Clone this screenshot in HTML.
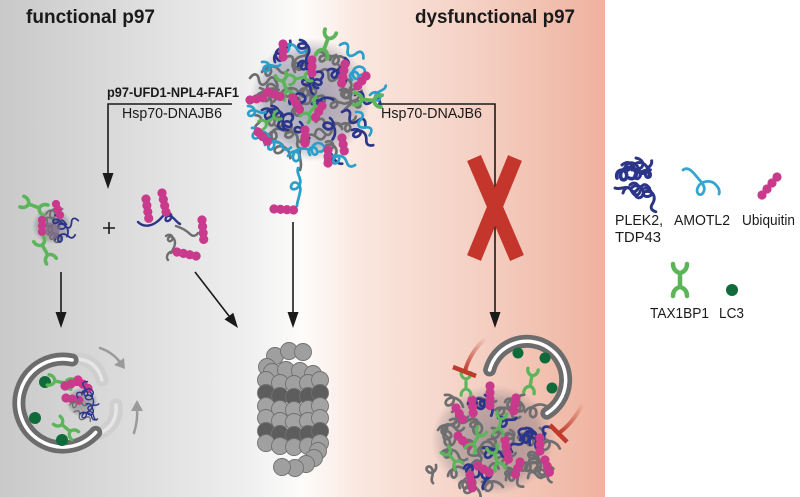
<!DOCTYPE html>
<html><head><meta charset="utf-8"><style>
html,body{margin:0;padding:0;background:#fff}
svg{display:block}
text{font-family:"Liberation Sans",Arial,sans-serif;fill:#1a1a1a}
</style></head><body>
<svg width="800" height="497" viewBox="0 0 800 497" xmlns="http://www.w3.org/2000/svg">
<defs>
<linearGradient id="bg" gradientUnits="userSpaceOnUse" x1="0" y1="0" x2="605" y2="0">
<stop offset="0" stop-color="#c9c9c9"/><stop offset="0.2" stop-color="#dbdbdb"/><stop offset="0.4" stop-color="#eeeeee"/><stop offset="0.5" stop-color="#fdfcfb"/><stop offset="0.6" stop-color="#fae6de"/><stop offset="0.8" stop-color="#f4cfc2"/><stop offset="1" stop-color="#efb29e"/>
</linearGradient>
<linearGradient id="f1" gradientUnits="userSpaceOnUse" x1="465" y1="372" x2="486" y2="338"><stop offset="0" stop-color="#c0392b"/><stop offset="1" stop-color="#c0392b" stop-opacity="0"/></linearGradient>
<linearGradient id="f2" gradientUnits="userSpaceOnUse" x1="559" y1="433" x2="583" y2="403"><stop offset="0" stop-color="#c0392b"/><stop offset="1" stop-color="#c0392b" stop-opacity="0"/></linearGradient>
<radialGradient id="blob1"><stop offset="0" stop-color="#5c5878" stop-opacity="0.55"/><stop offset="0.75" stop-color="#6a6680" stop-opacity="0.4"/><stop offset="1" stop-color="#6a6680" stop-opacity="0"/></radialGradient>
<radialGradient id="blob2"><stop offset="0" stop-color="#5e5a6e" stop-opacity="0.5"/><stop offset="0.75" stop-color="#6a6672" stop-opacity="0.35"/><stop offset="1" stop-color="#6a6672" stop-opacity="0"/></radialGradient>
<path id="q1" d="M0 0 c3 -6 10 -6 9 0 c-1 5 -7 5 -5 -1 c2 -6 9 -6 13 -1 c3 4 6 4 9 0"/>
<path id="q2" d="M0 0 c6 1 8 8 3 10 c-5 2 -6 -5 0 -5 c6 0 8 6 13 4"/>
<path id="q3" d="M0 0 c3 -6 7 -6 9 0 c2 6 6 6 9 0 c2 -6 6 -6 9 0"/>
<path id="q4" d="M0 0 c-2 -7 7 -9 8 -3 c1 6 -6 6 -5 0 c1 -6 9 -8 12 -3 c3 4 -1 8 -5 6"/>
<path id="q5" d="M0 0 c7 -4 13 1 9 7 c-3 4 -8 1 -5 -4 c4 -6 13 -4 17 2"/>
<g id="ub"><circle cx="0" cy="0" r="4.6"/><circle cx="6.5" cy="0" r="4.6"/><circle cx="13" cy="0" r="4.6"/><circle cx="19.5" cy="0" r="4.6"/></g>
<g id="ub3"><circle cx="0" cy="0" r="4.6"/><circle cx="6.5" cy="0" r="4.6"/><circle cx="13" cy="0" r="4.6"/></g>
<path id="tx" d="M-7 -16 c0 5 3 8 7 9 c4 -1 7 -4 7 -9 M0 -7 v14 M-7 16 c0 -5 3 -8 7 -9 c4 1 7 4 7 9" fill="none" stroke="#5cb55a" stroke-width="4.5" stroke-linecap="round"/>
</defs>

<rect x="0" y="0" width="605" height="497" fill="url(#bg)"/>
<rect x="605" y="0" width="195" height="497" fill="#fff"/>

<!-- titles -->
<text x="26" y="23" font-size="19" font-weight="bold" textLength="129" lengthAdjust="spacingAndGlyphs">functional p97</text>
<text x="415" y="23" font-size="19" font-weight="bold" textLength="160" lengthAdjust="spacingAndGlyphs">dysfunctional p97</text>
<text x="107" y="97" font-size="13.5" font-weight="bold" textLength="132" lengthAdjust="spacingAndGlyphs">p97-UFD1-NPL4-FAF1</text>
<text x="122" y="118" font-size="14.5" textLength="100" lengthAdjust="spacingAndGlyphs">Hsp70-DNAJB6</text>
<text x="381" y="118" font-size="14.5" textLength="101" lengthAdjust="spacingAndGlyphs">Hsp70-DNAJB6</text>

<!-- connectors -->
<g stroke="#1a1a1a" stroke-width="1.6" fill="none">
<path d="M232 104 H108 V175"/>
<path d="M378 104 H495 V313"/>
<path d="M293 222 V313"/>
<path d="M61 272 V313"/>
<path d="M195 272 L229 316"/>
<path d="M103 228 H115 M109 222 V234"/>
</g>
<g fill="#1a1a1a">
<polygon points="102.5,173 113.5,173 108,189"/>
<polygon points="489.5,312 500.5,312 495,328"/>
<polygon points="287.5,312 298.5,312 293,328"/>
<polygon points="55.5,312 66.5,312 61,328"/>
<polygon points="224.5,319.4 233.3,312.7 238,328"/>
</g>

<!-- red X -->
<g stroke="#c4352c" stroke-width="15">
<line x1="474" y1="158" x2="517" y2="258"/>
<line x1="515" y1="158" x2="474" y2="258"/>
</g>

<!-- central aggregate -->
<ellipse cx="310" cy="100" rx="60" ry="62" fill="url(#blob1)"/>
<g fill="none" stroke-width="2.7" stroke-linecap="round">
<g stroke="#6e6e70">
<use href="#q1" transform="translate(262,72)"/>
<use href="#q3" transform="translate(285,58) rotate(30)"/>
<use href="#q2" transform="translate(318,52) rotate(-20)"/>
<use href="#q4" transform="translate(338,78) rotate(60)"/>
<use href="#q5" transform="translate(258,96) rotate(-30)"/>
<use href="#q1" transform="translate(282,92) rotate(10)"/>
<use href="#q3" transform="translate(305,84) rotate(45)"/>
<use href="#q2" transform="translate(330,98) rotate(-15)"/>
<use href="#q5" transform="translate(350,88) rotate(90)"/>
<use href="#q4" transform="translate(266,122) rotate(20)"/>
<use href="#q1" transform="translate(292,116) rotate(-40)"/>
<use href="#q3" transform="translate(316,122) rotate(15)"/>
<use href="#q2" transform="translate(340,126) rotate(-60)"/>
<use href="#q5" transform="translate(276,142) rotate(35)"/>
<use href="#q1" transform="translate(300,142) rotate(-10)"/>
<use href="#q4" transform="translate(326,142) rotate(80)"/>
<use href="#q3" transform="translate(250,78) rotate(10)"/>
<use href="#q2" transform="translate(305,100) rotate(100)"/>
<use href="#q1" transform="translate(295,72) rotate(-60)"/>
<use href="#q3" transform="translate(320,72) rotate(20)"/>
<use href="#q5" transform="translate(275,80) rotate(80)"/>
<use href="#q2" transform="translate(340,90) rotate(-40)"/>
<use href="#q4" transform="translate(300,95)"/>
<use href="#q1" transform="translate(285,130) rotate(50)"/>
<use href="#q3" transform="translate(315,135) rotate(-20)"/>
<use href="#q5" transform="translate(260,88) rotate(45)"/>
<use href="#q2" transform="translate(350,105) rotate(-80)"/>
<use href="#q4" transform="translate(330,60) rotate(30)"/>
<use href="#q1" transform="translate(268,138) rotate(-20)"/>
<use href="#q3" transform="translate(255,115) rotate(70)"/>
<path d="M300 150 c-2 8 3 12 0 20"/>
</g>
<g stroke="#2b3589">
<use href="#q4" transform="translate(298,66) rotate(20)"/>
<use href="#q2" transform="translate(328,70) rotate(-40)"/>
<use href="#q1" transform="translate(272,106) rotate(70)"/>
<use href="#q5" transform="translate(312,104) rotate(-25)"/>
<use href="#q3" transform="translate(342,112) rotate(30)"/>
<use href="#q4" transform="translate(288,130) rotate(-70)"/>
<use href="#q2" transform="translate(328,152) rotate(10)"/>
<use href="#q1" transform="translate(352,130) rotate(40)"/>
<use href="#q5" transform="translate(262,110)"/>
<use href="#q3" transform="translate(345,58) rotate(100)"/>
<use href="#q1" transform="translate(300,40) rotate(70)"/>
<use href="#q2" transform="translate(310,76) rotate(50)"/>
<use href="#q4" transform="translate(290,104) rotate(-10)"/>
<use href="#q5" transform="translate(330,118) rotate(70)"/>
<use href="#q1" transform="translate(275,62) rotate(-50)"/>
<use href="#q3" transform="translate(355,95) rotate(20)"/>
<use href="#q2" transform="translate(300,122) rotate(30)"/>
<use href="#q4" transform="translate(318,88) rotate(-70)"/>
</g>
<g stroke="#2a9fcc">
<use href="#q2" transform="translate(262,62) rotate(-20)"/>
<use href="#q5" transform="translate(252,128) rotate(20)"/>
<use href="#q1" transform="translate(280,48) rotate(10)"/>
<use href="#q4" transform="translate(352,80) rotate(-30)"/>
<use href="#q3" transform="translate(356,112) rotate(60)"/>
<use href="#q2" transform="translate(248,106) rotate(-10)"/>
<use href="#q1" transform="translate(330,158) rotate(20)"/>
<use href="#q5" transform="translate(288,156) rotate(-30)"/>
<use href="#q3" transform="translate(340,45) rotate(30)"/>
<use href="#q1" transform="translate(265,145) rotate(10)"/>
<use href="#q2" transform="translate(370,95) rotate(-60)"/>
<use href="#q4" transform="translate(310,155) rotate(-20)"/>
<path d="M298 168 c-2 6 4 10 2 16 c-3 8 -12 6 -8 0 c3 -4 10 0 8 8 c-1 6 -3 10 -3 14"/>
</g>
</g>
<use href="#tx" transform="translate(326,44) rotate(20) scale(0.85)"/>
<use href="#tx" transform="translate(368,100) rotate(95) scale(0.85)"/>
<use href="#tx" transform="translate(285,86) rotate(-20) scale(0.8)"/>
<use href="#tx" transform="translate(312,110) rotate(40) scale(0.75)"/>
<use href="#tx" transform="translate(270,120) rotate(60) scale(0.65)"/>
<use href="#tx" transform="translate(300,78) rotate(80) scale(0.7)"/>
<g fill="#c93a8d">
<use href="#ub3" transform="translate(283,44) rotate(90)"/>
<use href="#ub3" transform="translate(250,100) rotate(-10)"/>
<use href="#ub" transform="translate(345,64) rotate(100)"/>
<use href="#ub3" transform="translate(258,132) rotate(45)"/>
<use href="#ub3" transform="translate(342,138) rotate(80)"/>
<use href="#ub3" transform="translate(322,106) rotate(120)"/>
<use href="#ub3" transform="translate(293,98) rotate(60)"/>
<use href="#ub3" transform="translate(366,76) rotate(130)"/>
<use href="#ub3" transform="translate(305,130) rotate(90)"/>
<use href="#ub3" transform="translate(328,150) rotate(90)"/>
<use href="#ub3" transform="translate(312,60) rotate(90)"/>
<use href="#ub3" transform="translate(268,92) rotate(20)"/>
<use href="#ub" transform="translate(274,209) rotate(3)"/>
</g>

<!-- small aggregate left -->
<ellipse cx="52" cy="226" rx="20" ry="18" fill="url(#blob2)"/>
<g fill="none" stroke-width="2.2" stroke-linecap="round">
<g stroke="#6e6e70">
<use href="#q1" transform="translate(40,222) scale(0.8)"/>
<use href="#q4" transform="translate(48,235) rotate(40) scale(0.8)"/>
<use href="#q5" transform="translate(46,214) rotate(-30) scale(0.8)"/>
<use href="#q2" transform="translate(44,228) rotate(-60) scale(0.8)"/>
</g>
<g stroke="#2b3589">
<use href="#q2" transform="translate(55,215) rotate(10) scale(0.8)"/>
<use href="#q3" transform="translate(58,228) rotate(-20) scale(0.8)"/>
<use href="#q1" transform="translate(55,240) rotate(-10) scale(0.8)"/>
<use href="#q5" transform="translate(62,220) rotate(60) scale(0.8)"/>
</g>
</g>
<use href="#tx" transform="translate(34,206) rotate(-70) scale(0.8)"/>
<use href="#tx" transform="translate(45,250) rotate(-30) scale(0.8)"/>
<g fill="#c93a8d">
<use href="#ub3" transform="translate(56,204) rotate(70) scale(0.9)"/>
<use href="#ub3" transform="translate(42,220) rotate(90) scale(0.9)"/>
</g>
<path d="M47 222 l14 4 -4 14 -12 -6 z" fill="#7d6a88" opacity="0.7"/>

<!-- second item -->
<g fill="none" stroke-width="2.4" stroke-linecap="round">
<path d="M138 222 c6 6 14 4 20 -1 c4 -3 6 -8 10 -8 c5 0 4 7 0 8 c-4 1 -3 -6 2 -5 c4 1 6 6 10 8" stroke="#2b3589"/>
<path d="M176 226 c6 2 10 4 14 8 c3 3 6 2 8 -1" stroke="#6e6e70"/>
<path d="M166 236 c4 -3 8 0 6 4 c-2 3 -6 0 -3 -3 c3 -2 6 2 6 6 c0 4 -2 6 -4 10" stroke="#6e6e70"/>
<path d="M170 252 c-3 2 -4 6 -2 8" stroke="#6e6e70"/>
</g>
<g fill="#c93a8d">
<use href="#ub" transform="translate(146,199) rotate(82)"/>
<use href="#ub" transform="translate(162,193) rotate(78)"/>
<use href="#ub" transform="translate(202,220) rotate(85)"/>
<use href="#ub" transform="translate(177,252) rotate(12)"/>
</g>

<!-- left autophagosome -->
<path d="M73 359 Q96 358 102 380" stroke="#cfcfcf" stroke-width="13" fill="none" stroke-linecap="round"/>
<path d="M73 359 Q96 358 102 380" stroke="#e6e6e6" stroke-width="3.5" fill="none" stroke-linecap="round"/>
<path d="M98 434 Q118 426 116 405" stroke="#cfcfcf" stroke-width="13" fill="none" stroke-linecap="round"/>
<path d="M98 434 Q118 426 116 405" stroke="#e6e6e6" stroke-width="3.5" fill="none" stroke-linecap="round"/>
<path d="M72.1 360 A44 44 0 1 0 95.7 432.4" stroke="#6c6c6c" stroke-width="13" fill="none" stroke-linecap="round"/>
<path d="M72.1 360 A44 44 0 1 0 95.7 432.4" stroke="#ffffff" stroke-width="3.5" fill="none" stroke-linecap="round"/>
<g stroke="#9a9a9a" stroke-width="2.5" fill="none" stroke-linecap="round">
<path d="M100 348 Q112 352 120 362"/>
<path d="M134 433 Q138 420 137 409"/>
</g>
<polygon points="114,365 124,358 125,369" fill="#9a9a9a"/>
<polygon points="131,411 143,411 137,400" fill="#9a9a9a"/>
<g fill="#0f6b3a">
<circle cx="45" cy="382" r="6"/><circle cx="35" cy="418" r="6"/><circle cx="62" cy="440" r="6"/>
</g>
<ellipse cx="82" cy="402" rx="16" ry="15" fill="url(#blob2)"/>
<use href="#tx" transform="translate(60,382) rotate(-80) scale(0.75)"/>
<use href="#tx" transform="translate(66,428) rotate(-50) scale(0.75)"/>
<g fill="#c93a8d">
<use href="#ub3" transform="translate(65,386) rotate(-20)"/>
<use href="#ub3" transform="translate(78,380) rotate(40)"/>
<use href="#ub3" transform="translate(66,398) rotate(10)"/>
</g>
<g fill="none" stroke-width="2" stroke-linecap="round">
<g stroke="#6e6e70">
<use href="#q1" transform="translate(70,405) scale(0.7)"/>
<use href="#q3" transform="translate(74,412) rotate(30) scale(0.7)"/>
</g>
<g stroke="#2b3589">
<use href="#q4" transform="translate(82,395) scale(0.7)"/>
<use href="#q2" transform="translate(86,404) rotate(-30) scale(0.7)"/>
<use href="#q1" transform="translate(80,414) rotate(20) scale(0.7)"/>
<use href="#q5" transform="translate(90,392) rotate(70) scale(0.7)"/>
<use href="#q3" transform="translate(78,398) rotate(-60) scale(0.7)"/>
<use href="#q2" transform="translate(92,408) rotate(40) scale(0.7)"/>
</g>
</g>

<!-- proteasome -->
<g stroke="#707070" stroke-width="0.9">
<g fill="#9f9f9f">
<circle cx="275" cy="356" r="8.5"/><circle cx="289" cy="351" r="8.5"/><circle cx="303" cy="352" r="8.5"/>
<circle cx="267" cy="367" r="8.5"/>
</g>
<g fill="#a0a0a0">
<circle cx="272" cy="372" r="8.5"/><circle cx="286" cy="370" r="8.5"/><circle cx="300" cy="371" r="8.5"/><circle cx="313" cy="374" r="8.5"/>
<circle cx="266" cy="380" r="8.5"/><circle cx="280" cy="383" r="8.5"/><circle cx="294" cy="384" r="8.5"/><circle cx="308" cy="383" r="8.5"/><circle cx="320" cy="380" r="8.5"/>
</g>
<g fill="#5d5d5d">
<circle cx="266" cy="393" r="8.5"/><circle cx="280" cy="396" r="8.5"/><circle cx="294" cy="397" r="8.5"/><circle cx="308" cy="396" r="8.5"/><circle cx="320" cy="393" r="8.5"/>
</g>
<g fill="#a3a3a3">
<circle cx="266" cy="406" r="8.5"/><circle cx="280" cy="409" r="8.5"/><circle cx="294" cy="410" r="8.5"/><circle cx="308" cy="409" r="8.5"/><circle cx="320" cy="406" r="8.5"/>
<circle cx="266" cy="418" r="8.5"/><circle cx="280" cy="421" r="8.5"/><circle cx="294" cy="422" r="8.5"/><circle cx="308" cy="421" r="8.5"/><circle cx="320" cy="418" r="8.5"/>
</g>
<g fill="#5d5d5d">
<circle cx="266" cy="431" r="8.5"/><circle cx="280" cy="434" r="8.5"/><circle cx="294" cy="435" r="8.5"/><circle cx="308" cy="434" r="8.5"/><circle cx="320" cy="431" r="8.5"/>
</g>
<g fill="#a0a0a0">
<circle cx="266" cy="443" r="8.5"/><circle cx="280" cy="446" r="8.5"/><circle cx="294" cy="447" r="8.5"/><circle cx="308" cy="446" r="8.5"/><circle cx="320" cy="443" r="8.5"/>
</g>
<g fill="#9f9f9f">
<circle cx="318" cy="451" r="8.5"/><circle cx="314" cy="458" r="8.5"/><circle cx="306" cy="464" r="8.5"/><circle cx="295" cy="468" r="8.5"/><circle cx="282" cy="467" r="8.5"/>
</g>
</g>

<!-- right aggregate -->
<ellipse cx="493" cy="440" rx="62" ry="55" fill="url(#blob2)"/>
<g fill="none" stroke-width="2.7" stroke-linecap="round">
<g stroke="#6e6e70">
<use href="#q1" transform="translate(438,430)"/>
<use href="#q3" transform="translate(452,412) rotate(30)"/>
<use href="#q2" transform="translate(478,398) rotate(-20)"/>
<use href="#q4" transform="translate(505,402) rotate(40)"/>
<use href="#q5" transform="translate(525,412) rotate(-30)"/>
<use href="#q1" transform="translate(442,452) rotate(20)"/>
<use href="#q3" transform="translate(466,440) rotate(60)"/>
<use href="#q2" transform="translate(492,428) rotate(-10)"/>
<use href="#q4" transform="translate(518,438) rotate(30)"/>
<use href="#q5" transform="translate(536,448) rotate(80)"/>
<use href="#q1" transform="translate(448,476) rotate(-20)"/>
<use href="#q3" transform="translate(472,464) rotate(10)"/>
<use href="#q2" transform="translate(498,458) rotate(-45)"/>
<use href="#q4" transform="translate(522,468) rotate(15)"/>
<use href="#q5" transform="translate(482,482)"/>
<use href="#q1" transform="translate(506,480) rotate(-30)"/>
<use href="#q2" transform="translate(436,465) rotate(70)"/>
<use href="#q3" transform="translate(540,428) rotate(100)"/>
<use href="#q4" transform="translate(460,488) rotate(-10)"/>
<use href="#q5" transform="translate(445,395) rotate(20)"/>
<use href="#q1" transform="translate(530,455) rotate(60)"/>
<use href="#q2" transform="translate(450,420) rotate(-40)"/>
<use href="#q4" transform="translate(470,420) rotate(70)"/>
<use href="#q1" transform="translate(495,410) rotate(20)"/>
<use href="#q3" transform="translate(515,420) rotate(-70)"/>
<use href="#q5" transform="translate(540,440) rotate(10)"/>
<use href="#q2" transform="translate(455,440) rotate(90)"/>
<use href="#q4" transform="translate(480,455) rotate(-30)"/>
<use href="#q1" transform="translate(505,468) rotate(50)"/>
<use href="#q3" transform="translate(528,478) rotate(-20)"/>
<use href="#q5" transform="translate(465,482) rotate(30)"/>
<use href="#q1" transform="translate(445,440) rotate(-60)"/>
<use href="#q2" transform="translate(545,465) rotate(40)"/>
<use href="#q3" transform="translate(488,440) rotate(40)"/>
<use href="#q4" transform="translate(510,430) rotate(120)"/>
</g>
<g stroke="#2b3589">
<use href="#q4" transform="translate(468,404) rotate(20)"/>
<use href="#q2" transform="translate(498,418) rotate(-30)"/>
<use href="#q1" transform="translate(526,428) rotate(60)"/>
<use href="#q5" transform="translate(483,448) rotate(10)"/>
<use href="#q3" transform="translate(512,452) rotate(-60)"/>
<use href="#q4" transform="translate(464,468) rotate(40)"/>
<use href="#q2" transform="translate(492,473) rotate(90)"/>
<use href="#q1" transform="translate(520,440) rotate(-10)"/>
<use href="#q5" transform="translate(485,395) rotate(60)"/>
<use href="#q3" transform="translate(530,445) rotate(-40)"/>
</g>
</g>
<g fill="#c93a8d">
<use href="#ub" transform="translate(490,386) rotate(90)"/>
<use href="#ub3" transform="translate(516,398) rotate(100)"/>
<use href="#ub3" transform="translate(458,436) rotate(45)"/>
<use href="#ub" transform="translate(505,440) rotate(80)"/>
<use href="#ub3" transform="translate(540,438) rotate(90)"/>
<use href="#ub3" transform="translate(478,466) rotate(30)"/>
<use href="#ub3" transform="translate(520,462) rotate(110)"/>
<use href="#ub3" transform="translate(456,408) rotate(60)"/>
<use href="#ub3" transform="translate(472,400) rotate(85)"/>
<use href="#ub3" transform="translate(470,475) rotate(80)"/>
<use href="#ub3" transform="translate(545,460) rotate(70)"/>
</g>
<use href="#tx" transform="translate(466,384) rotate(0) scale(0.7)"/>
<use href="#tx" transform="translate(476,440) rotate(30) scale(0.75)"/>
<use href="#tx" transform="translate(496,458) rotate(-20) scale(0.75)"/>
<use href="#tx" transform="translate(452,458) rotate(-40) scale(0.7)"/>
<use href="#tx" transform="translate(500,424) rotate(10) scale(0.7)"/>

<!-- right autophagosome -->
<path d="M489.6 370 A38.7 38.7 0 1 1 546.9 413.2" stroke="#6c6c6c" stroke-width="13" fill="none" stroke-linecap="round"/>
<path d="M489.6 370 A38.7 38.7 0 1 1 546.9 413.2" stroke="#ffffff" stroke-width="3.5" fill="none" stroke-linecap="round"/>
<g fill="#0f6b3a">
<circle cx="518" cy="353" r="5.5"/><circle cx="545" cy="358" r="5.5"/><circle cx="552" cy="388" r="5.5"/>
</g>
<use href="#tx" transform="translate(531,381) rotate(10) scale(0.75)"/>

<!-- inhibition bars -->
<path d="M465 371 Q470 352 486 338" stroke="url(#f1)" stroke-width="4" fill="none"/>
<line x1="453" y1="367" x2="476" y2="376" stroke="#c0392b" stroke-width="4.5"/>
<path d="M559 433 Q574 422 583 403" stroke="url(#f2)" stroke-width="4" fill="none"/>
<line x1="550" y1="425" x2="567" y2="442" stroke="#c0392b" stroke-width="4.5"/>

<!-- legend -->
<g fill="none" stroke="#2b3589" stroke-width="3" stroke-linecap="round">
<use href="#q4" transform="translate(617,178) scale(1.2)"/>
<use href="#q1" transform="translate(622,165) rotate(20)"/>
<use href="#q2" transform="translate(632,170) rotate(-30)"/>
<use href="#q5" transform="translate(636,158) rotate(40)"/>
<use href="#q3" transform="translate(623,193) rotate(-10)"/>
<use href="#q1" transform="translate(645,188) rotate(70)"/>
<use href="#q2" transform="translate(640,175) rotate(-80)"/>
<use href="#q4" transform="translate(630,185) rotate(60)"/>
<path d="M615 188 c5 2 10 -2 14 0"/>
</g>
<path d="M683 170 c5 -4 10 2 14 7 c4 5 10 10 6 16 c-3 4 -8 0 -5 -6 c3 -6 13 -8 18 -2 c3 3 4 6 3 9" stroke="#34a6cf" stroke-width="2.8" fill="none" stroke-linecap="round"/>
<g fill="#c93a8d">
<circle cx="762" cy="195" r="4.6"/><circle cx="767" cy="189" r="4.6"/><circle cx="772" cy="183" r="4.6"/><circle cx="777" cy="177" r="4.6"/>
</g>
<use href="#tx" transform="translate(680,280)"/>
<circle cx="732" cy="290" r="6" fill="#0f6b3a"/>
<g font-size="14.5">
<text x="615" y="225" textLength="48" lengthAdjust="spacingAndGlyphs">PLEK2,</text>
<text x="615" y="242" textLength="46" lengthAdjust="spacingAndGlyphs">TDP43</text>
<text x="674" y="225" textLength="56" lengthAdjust="spacingAndGlyphs">AMOTL2</text>
<text x="742" y="225" textLength="53" lengthAdjust="spacingAndGlyphs">Ubiquitin</text>
<text x="650" y="318" textLength="59" lengthAdjust="spacingAndGlyphs">TAX1BP1</text>
<text x="719" y="318" textLength="25" lengthAdjust="spacingAndGlyphs">LC3</text>
</g>
</svg>
</body></html>
